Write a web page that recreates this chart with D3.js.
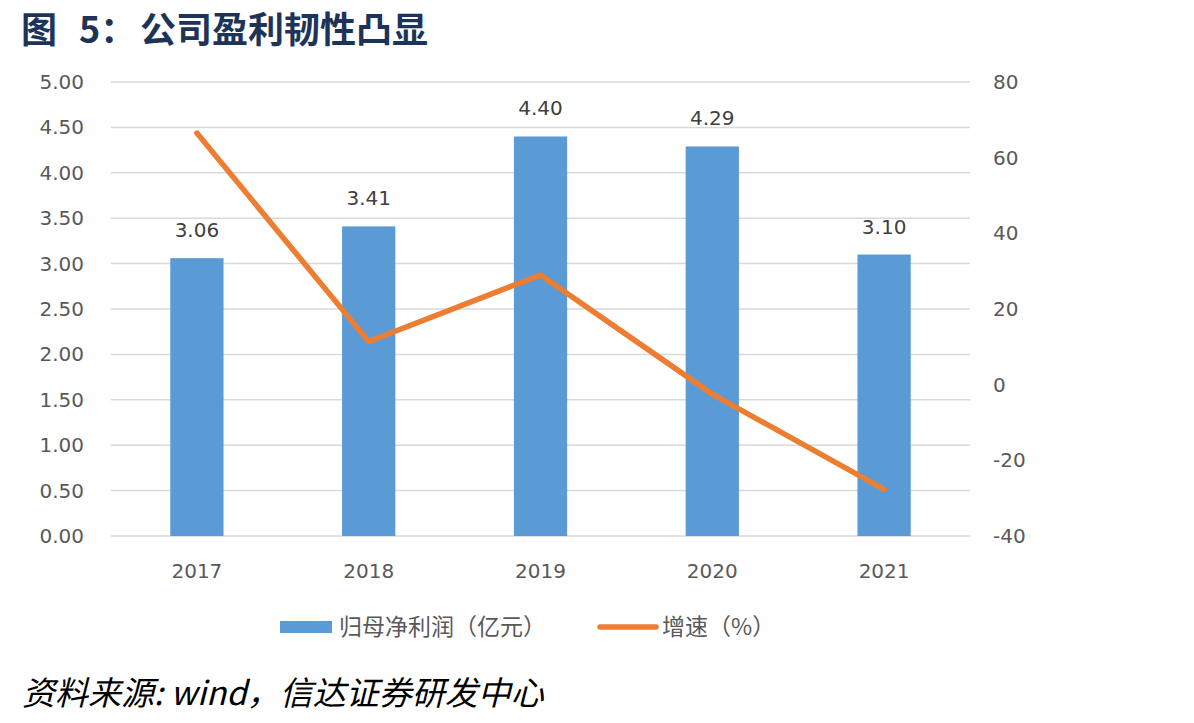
<!DOCTYPE html>
<html>
<head>
<meta charset="utf-8">
<script src="https://cdn.jsdelivr.net/npm/d3@7"></script>
<style>
	body { margin: 0; background: #fff; }
	svg { display: block; font-family: "DejaVu Sans", "Noto Sans CJK SC", sans-serif; }
</style>
</head>
<body>
<svg id="chart" width="1194" height="723"></svg>
<script>
const years = ["2017", "2018", "2019", "2020", "2021"];
const profit = [3.06, 3.41, 4.40, 4.29, 3.10];   // 归母净利润（亿元）
const growth = [66.5, 11.4, 29.0, -2.5, -27.7];   // 增速（%）
const leftTicks = [0, 0.5, 1, 1.5, 2, 2.5, 3, 3.5, 4, 4.5, 5];
const rightTicks = [-40, -20, 0, 20, 40, 60, 80];

const svg = d3.select("#chart");
const plotL = 111, plotR = 970, plotT = 82, plotB = 536;
const axisFont = "'DejaVu Sans', sans-serif";
const cjkFont = "'Noto Sans CJK SC', sans-serif";

const x = d3.scaleBand().domain(years).range([plotL, plotR]).padding(0);
const yL = d3.scaleLinear().domain([0, 5]).range([plotB, plotT]);
const yR = d3.scaleLinear().domain([-40, 80]).range([plotB, plotT]);

// title
const title = svg.append("text")
	.attr("y", 43)
	.attr("font-size", 36).attr("font-weight", "bold")
	.attr("fill", "#1d3458")
	.attr("font-family", cjkFont);
title.append("tspan").attr("x", 21).text("图");
title.append("tspan").attr("x", 79).text("5：");
title.append("tspan").attr("x", 140).text("公司盈利韧性凸显");

// gridlines
svg.append("g").selectAll("line")
	.data(leftTicks)
	.join("line")
	.attr("x1", plotL).attr("x2", plotR)
	.attr("y1", d => yL(d)).attr("y2", d => yL(d))
	.attr("stroke", "#d9d9d9").attr("stroke-width", 1.5);

// left axis
const axL = svg.append("g").attr("transform", `translate(${plotL},0)`)
	.call(d3.axisLeft(yL).tickValues(leftTicks).tickFormat(d3.format(".2f")).tickSize(0).tickPadding(27));
axL.select(".domain").remove();
axL.selectAll("text").attr("font-size", 20).attr("fill", "#595959").attr("font-family", axisFont);

// right axis
const axR = svg.append("g").attr("transform", `translate(${plotR},0)`)
	.call(d3.axisRight(yR).tickValues(rightTicks).tickFormat(d => String(d)).tickSize(0).tickPadding(23));
axR.select(".domain").remove();
axR.selectAll("text").attr("font-size", 20).attr("fill", "#595959").attr("font-family", axisFont);

// x axis
const axX = svg.append("g").attr("transform", `translate(0,${plotB})`)
	.call(d3.axisBottom(x).tickSize(0).tickPadding(28));
axX.select(".domain").remove();
axX.selectAll("text").attr("font-size", 20).attr("fill", "#595959").attr("font-family", axisFont);

// bars
const barW = x.bandwidth() * 0.31;
svg.append("g").selectAll("rect")
	.data(profit)
	.join("rect")
	.attr("x", (d, i) => x(years[i]) + x.bandwidth() / 2 - barW / 2)
	.attr("y", d => yL(d))
	.attr("width", barW)
	.attr("height", d => yL(0) - yL(d))
	.attr("fill", "#5b9bd5");

// bar labels
svg.append("g").selectAll("text")
	.data(profit)
	.join("text")
	.attr("x", (d, i) => x(years[i]) + x.bandwidth() / 2)
	.attr("y", d => yL(d) - 21)
	.attr("text-anchor", "middle")
	.attr("font-size", 20).attr("fill", "#404040")
	.attr("font-family", axisFont)
	.text(d => d.toFixed(2));

// growth line
const line = d3.line()
	.x((d, i) => x(years[i]) + x.bandwidth() / 2)
	.y(d => yR(d));
svg.append("path")
	.datum(growth)
	.attr("d", line)
	.attr("fill", "none")
	.attr("stroke", "#ed7d31")
	.attr("stroke-width", 5.5)
	.attr("stroke-linecap", "round")
	.attr("stroke-linejoin", "round");

// legend
const lg = svg.append("g").attr("font-family", cjkFont).attr("font-size", 23).attr("fill", "#595959");
lg.append("rect").attr("x", 280).attr("y", 621).attr("width", 52).attr("height", 12).attr("fill", "#5b9bd5");
lg.append("text").attr("x", 339).attr("y", 635).text("归母净利润（亿元）");
lg.append("line").attr("x1", 600).attr("x2", 656).attr("y1", 627).attr("y2", 627)
	.attr("stroke", "#ed7d31").attr("stroke-width", 5.5).attr("stroke-linecap", "round");
lg.append("text").attr("x", 662).attr("y", 635).text("增速（%）");

// source
svg.append("text")
	.attr("x", 22).attr("y", 705)
	.attr("font-size", 33).attr("font-style", "italic")
	.attr("fill", "#000")
	.attr("font-family", cjkFont)
	.text("资料来源: wind，信达证券研发中心");
</script>
</body>
</html>
